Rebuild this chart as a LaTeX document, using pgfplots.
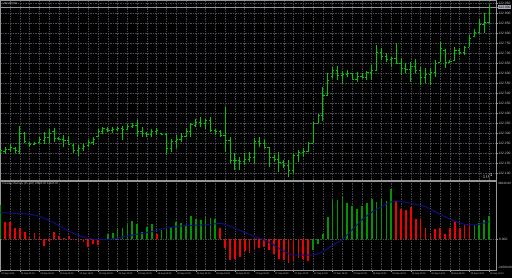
\documentclass[border=0pt]{standalone}
\usepackage{fontspec}
\setmainfont{Liberation Sans}
\usepackage{pgfplots}
\usepackage{pgfplotstable}
\pgfplotsset{compat=1.18}
\definecolor{bargreen}{RGB}{0,200,0}
\definecolor{histgreen}{RGB}{0,150,0}
\definecolor{histred}{RGB}{245,0,0}
\definecolor{sigblue}{RGB}{15,15,125}
\definecolor{gridcol}{RGB}{70,72,82}
\definecolor{framecol}{RGB}{150,150,150}
\definecolor{txtcol}{RGB}{205,205,205}
\definecolor{labelbg}{RGB}{170,170,180}
\pgfdeclareplotmark{otick}{\pgfpathmoveto{\pgfqpoint{-1.7bp}{0pt}}\pgfpathlineto{\pgfqpoint{0pt}{0pt}}\pgfusepathqstroke}
\pgfdeclareplotmark{ctick}{\pgfpathmoveto{\pgfqpoint{0pt}{0pt}}\pgfpathlineto{\pgfqpoint{1.7bp}{0pt}}\pgfusepathqstroke}
\pgfplotstableread{
i h l o c
0 122.215 122.200 122.205 122.213
1 122.230 122.195 122.210 122.220
2 122.245 122.205 122.220 122.230
3 122.230 122.200 122.225 122.215
4 122.335 122.195 122.210 122.300
5 122.305 122.250 122.300 122.260
6 122.255 122.230 122.250 122.245
7 122.255 122.240 122.245 122.250
8 122.280 122.250 122.255 122.270
9 122.305 122.245 122.265 122.280
10 122.320 122.250 122.280 122.300
11 122.325 122.255 122.310 122.275
12 122.280 122.265 122.275 122.270
13 122.290 122.230 122.270 122.265
14 122.285 122.240 122.265 122.245
15 122.250 122.200 122.240 122.215
16 122.240 122.185 122.215 122.225
17 122.250 122.210 122.225 122.235
18 122.265 122.230 122.240 122.255
19 122.280 122.240 122.255 122.270
20 122.320 122.280 122.285 122.310
21 122.330 122.295 122.310 122.325
22 122.330 122.305 122.320 122.315
23 122.330 122.300 122.315 122.320
24 122.330 122.310 122.320 122.325
25 122.335 122.265 122.325 122.320
26 122.345 122.315 122.320 122.335
27 122.350 122.325 122.335 122.340
28 122.365 122.280 122.340 122.310
29 122.330 122.280 122.310 122.300
30 122.305 122.280 122.300 122.295
31 122.320 122.280 122.295 122.310
32 122.325 122.290 122.310 122.315
33 122.300 122.290 122.300 122.295
34 122.300 122.190 122.295 122.225
35 122.270 122.205 122.225 122.260
36 122.290 122.225 122.260 122.270
37 122.300 122.255 122.270 122.285
38 122.325 122.280 122.285 122.310
39 122.350 122.280 122.310 122.345
40 122.370 122.330 122.340 122.355
41 122.380 122.330 122.355 122.350
42 122.370 122.320 122.350 122.365
43 122.380 122.305 122.365 122.315
44 122.320 122.290 122.315 122.310
45 122.315 122.280 122.310 122.290
46 122.430 122.205 122.290 122.265
47 122.280 122.150 122.265 122.165
48 122.200 122.115 122.165 122.165
49 122.180 122.115 122.165 122.160
50 122.200 122.140 122.160 122.170
51 122.205 122.155 122.170 122.180
52 122.275 122.150 122.180 122.260
53 122.280 122.230 122.260 122.250
54 122.265 122.225 122.250 122.230
55 122.230 122.130 122.230 122.180
56 122.190 122.155 122.180 122.170
57 122.205 122.105 122.170 122.155
58 122.165 122.125 122.155 122.140
59 122.165 122.080 122.140 122.115
60 122.200 122.100 122.115 122.190
61 122.215 122.155 122.190 122.205
62 122.225 122.180 122.205 122.210
63 122.255 122.205 122.210 122.250
64 122.355 122.250 122.250 122.350
65 122.395 122.350 122.350 122.390
66 122.530 122.360 122.390 122.490
67 122.600 122.490 122.490 122.565
68 122.630 122.575 122.585 122.615
69 122.635 122.565 122.615 122.590
70 122.610 122.550 122.590 122.595
71 122.615 122.580 122.595 122.600
72 122.600 122.565 122.600 122.570
73 122.605 122.555 122.570 122.585
74 122.600 122.575 122.585 122.580
75 122.610 122.565 122.580 122.605
76 122.640 122.565 122.605 122.615
77 122.740 122.615 122.615 122.705
78 122.725 122.665 122.705 122.685
79 122.700 122.655 122.685 122.670
80 122.680 122.630 122.670 122.675
81 122.750 122.650 122.675 122.650
82 122.675 122.590 122.650 122.625
83 122.650 122.600 122.625 122.620
84 122.655 122.555 122.620 122.635
85 122.670 122.600 122.635 122.615
86 122.630 122.540 122.615 122.580
87 122.625 122.550 122.580 122.595
88 122.625 122.540 122.595 122.605
89 122.665 122.580 122.605 122.650
90 122.755 122.655 122.655 122.725
91 122.720 122.625 122.715 122.655
92 122.665 122.650 122.655 122.660
93 122.730 122.665 122.665 122.715
94 122.725 122.690 122.715 122.705
95 122.735 122.690 122.705 122.730
96 122.790 122.730 122.730 122.775
97 122.820 122.780 122.785 122.805
98 122.870 122.800 122.805 122.845
99 122.900 122.800 122.845 122.855
100 122.940 122.850 122.855 122.930
}\ohlc
\begin{document}
\begin{tikzpicture}
\useasboundingbox (0,0) rectangle (512bp,278bp);
\fill[black] (0,0) rectangle (512bp,278bp);
\pgfplotsset{mt/.style={
  scale only axis, width=496bp, xmin=-0.06, xmax=101.43,
  axis line style={framecol, line width=0.8bp},
  grid style={gridcol, line width=0.5bp, dash pattern=on 1.5bp off 1bp},
  minor grid style={gridcol, line width=0.5bp, dash pattern=on 1.5bp off 1bp},
  tick align=outside, major tick length=1.6bp, minor tick length=0pt,
  ytick pos=right, yticklabel pos=right,
  ytick style={framecol, line width=0.4bp},
  yticklabel style={anchor=west, inner sep=0.4bp, xshift=0.3bp, text=txtcol, font=\fontsize{3.3bp}{3.8bp}\selectfont},
  clip mode=individual}}
% ---------------- price panel ----------------
\begin{axis}[mt, at={(0,98bp)}, anchor=south west, height=180bp,
  ymin=122.065, ymax=122.965,
  xtick={0,2,...,100}, xticklabels={}, xtick style={draw=none}, xmajorgrids, ymajorgrids,
  ytick={122.100,122.150,122.200,122.250,122.300,122.350,122.400,122.450,122.500,122.550,122.600,122.650,122.700,122.750,122.800,122.850,122.900,122.950},
  yticklabels={122.100,122.150,122.200,122.250,122.300,122.350,122.400,122.450,122.500,122.550,122.600,122.650,122.700,122.750,122.800,122.850,122.900,122.950},
  extra y ticks={122.930}, extra y tick labels={122.930},
  extra y tick style={grid=none, yticklabel style={fill=labelbg, text=black, inner sep=0.5bp}}]
\addplot[framecol, line width=0.5bp, mark=none, forget plot] coordinates {(-1,122.930) (102,122.930)};
\addplot[bargreen, line width=0.9bp, only marks, mark=otick,
  error bars/.cd, y dir=both, y explicit, error mark=none, error bar style={line width=0.9bp}]
  table[x=i, y=o, y error plus expr=\thisrow{h}-\thisrow{o}, y error minus expr=\thisrow{o}-\thisrow{l}] {\ohlc};
\addplot[bargreen, line width=0.9bp, only marks, mark=ctick] table[x=i, y=c] {\ohlc};
\node[anchor=north west, inner sep=0.5bp, text=txtcol, font=\fontsize{2.8bp}{3.2bp}\selectfont] at (rel axis cs:0.004,0.992) {USDJPY,H1};
\end{axis}
% ---------------- indicator panel ----------------
\begin{axis}[mt, at={(0,8bp)}, anchor=south west, height=89bp,
  ymin=-24560, ymax=46640,
  xtick={0,4,...,100}, minor xtick={2,6,...,98}, xmajorgrids, xminorgrids, ymajorgrids,
  xtick pos=bottom, xtick style={framecol, line width=0.4bp},
  major tick length=2.2bp,
  xticklabels={24 Sep 2015, 25 Sep 02:00, 25 Sep 06:00, 25 Sep 10:00, 25 Sep 14:00, 25 Sep 18:00, 25 Sep 22:00, 26 Sep 02:00, 26 Sep 06:00, 26 Sep 10:00, 26 Sep 14:00, 26 Sep 18:00, 26 Sep 22:00, 27 Sep 02:00, 27 Sep 06:00, 27 Sep 10:00, 27 Sep 14:00, 27 Sep 18:00, 27 Sep 22:00, 28 Sep 02:00, 28 Sep 06:00, 28 Sep 10:00, 28 Sep 14:00, 28 Sep 18:00, 28 Sep 22:00, 29 Sep 02:00},
  xticklabel style={anchor=north west, inner sep=0.3bp, xshift=0.6bp, yshift=-0.3bp, text=txtcol, font=\fontsize{2.3bp}{2.8bp}\selectfont},
  ytick={0}, yticklabels={0.000}]
\addplot[ycomb, histgreen, line width=1.7bp, mark=none] coordinates {
(0,27440) (21,200) (22,4240) (23,4800) (24,9360) (25,9360) (26,12800) (27,14960) (28,12000) (29,6160) (30,9600) (31,12000) (33,7200) (34,9360) (35,10160) (36,14160) (37,12800) (38,10960) (39,18960) (40,16000) (41,15440) (42,18160) (43,16800) (44,16240) (64,-8560) (65,-3760) (66,4000) (67,18160) (68,31440) (69,31440) (70,34640) (71,28800) (72,26640) (73,24240) (74,26960) (75,28800) (76,32240) (77,29600) (78,32240) (79,30640) (80,40000) (97,11440) (98,13360) (99,15440) (100,18960)};
\addplot[ycomb, histred, line width=1.7bp, mark=none] coordinates {
(1,14160) (2,13600) (3,8800) (4,9360) (5,6160) (6,2640) (7,5360) (8,2640) (9,-5040) (10,-1040) (11,5600) (12,2640) (13,1040) (14,2640) (15,-200) (16,-1360) (17,-1840) (18,-5840) (19,-3760) (20,-4560) (32,4000) (45,9360) (46,-6640) (47,-16560) (48,-15760) (49,-14400) (50,-9360) (51,-11200) (52,-7760) (53,-6640) (54,-6160) (55,-8560) (56,-11440) (57,-15760) (58,-16560) (59,-19200) (60,-17360) (61,-15200) (62,-15760) (63,-17360) (81,30640) (82,24240) (83,23200) (84,26160) (85,16240) (86,16800) (87,9360) (88,4240) (89,8000) (90,9360) (91,4240) (92,9360) (93,13600) (94,9360) (95,11440) (96,11440)};
\addplot[sigblue, line width=1bp, mark=none, smooth, tension=0.5] coordinates {
(0,21360) (2,21040) (4,20560) (6,20000) (8,18400) (10,14960) (12,10960) (14,6640) (16,3200) (18,800) (20,-240) (22,-240) (24,1040) (26,2640) (28,4000) (30,5360) (32,7200) (34,9040) (36,10200) (38,10960) (40,11300) (42,11600) (44,12400) (45,12800) (46,11840) (48,8800) (50,5600) (52,2160) (54,-560) (56,-4560) (58,-9600) (60,-12400) (62,-12560) (64,-12560) (66,-10000) (68,-4800) (70,0) (72,7600) (74,15600) (76,21600) (78,26160) (80,30000) (81,30640) (83,29600) (85,28000) (87,26000) (89,22000) (91,18000) (93,14640) (95,12000) (97,11440) (98,12000) (100,14160)};
\node[anchor=north west, inner sep=0.5bp, text=txtcol, font=\fontsize{2.7bp}{3.1bp}\selectfont] at (rel axis cs:0.004,0.985) {Intraday Intensity (21,140) 18960.00 14160.00};
\node[anchor=north west, inner sep=0.4bp, xshift=1.6bp, text=txtcol, font=\fontsize{3.1bp}{3.6bp}\selectfont] at (rel axis cs:1,0.995) {46640.00};
\node[anchor=south west, inner sep=0.4bp, xshift=1.6bp, text=txtcol, font=\fontsize{3.1bp}{3.6bp}\selectfont] at (rel axis cs:1,0.005) {-24560.00};
\end{axis}
\end{tikzpicture}
\end{document}
